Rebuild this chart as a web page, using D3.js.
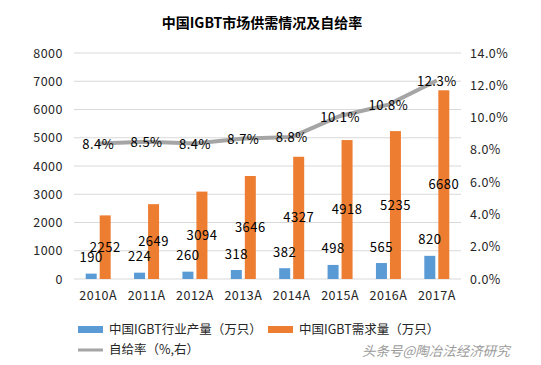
<!DOCTYPE html>
<html>
<head>
<meta charset="utf-8">
<script src="https://cdn.jsdelivr.net/npm/d3@7"></script>
<style>
  body { margin: 0; background: #fff; }
  text { font-family: "Noto Sans CJK SC", "Noto Sans", sans-serif; }
</style>
</head>
<body>
<div id="vis"></div>
<script>
// data
const YEARS = ["2010A", "2011A", "2012A", "2013A", "2014A", "2015A", "2016A", "2017A"]
const OUTPUT = [190, 224, 260, 318, 382, 498, 565, 820]
const DEMAND = [2252, 2649, 3094, 3646, 4327, 4918, 5235, 6680]
const RATE = [8.4, 8.5, 8.4, 8.7, 8.8, 10.1, 10.8, 12.3]
const LEFT_TICKS = [0, 1000, 2000, 3000, 4000, 5000, 6000, 7000, 8000]
const RIGHT_TICKS = [0, 2, 4, 6, 8, 10, 12, 14]

const FRAME_WIDTH = 541
const FRAME_HEIGHT = 365
const MARGINS = {left: 74, right: 80, top: 53, bottom: 86}
const VIS_WIDTH = FRAME_WIDTH - MARGINS.left - MARGINS.right
const VIS_HEIGHT = FRAME_HEIGHT - MARGINS.top - MARGINS.bottom

const BLUE = "#5b9bd5", ORANGE = "#ed7d31", GRAY = "#a5a5a5"

const FRAME = d3.select("#vis").append("svg")
    .attr("width", FRAME_WIDTH)
    .attr("height", FRAME_HEIGHT)

const g = FRAME.append("g")
    .attr("transform", "translate(" + MARGINS.left + "," + MARGINS.top + ")")

// scales
const x = d3.scaleBand().domain(YEARS).range([0, VIS_WIDTH])
const y = d3.scaleLinear().domain([0, 8000]).range([VIS_HEIGHT, 0])
const y2 = d3.scaleLinear().domain([0, 14]).range([VIS_HEIGHT, 0])

const BAR_W = 11
const GAP = 3

// gridlines
g.selectAll(".grid").data(LEFT_TICKS).enter().append("line")
    .attr("x1", 0).attr("x2", VIS_WIDTH)
    .attr("y1", d => y(d)).attr("y2", d => y(d))
    .attr("stroke", "#d9d9d9").attr("stroke-width", 1)

// left axis
const yAxis = g.append("g")
    .call(d3.axisLeft(y).tickValues(LEFT_TICKS).tickSize(0).tickPadding(11)
        .tickFormat(d3.format("d")))
yAxis.select(".domain").remove()
yAxis.selectAll("text").attr("font-size", "12.5px").attr("fill", "#262626")
    .attr("letter-spacing", "0.5px")

// right axis
const yAxis2 = g.append("g")
    .attr("transform", "translate(" + VIS_WIDTH + ",0)")
    .call(d3.axisRight(y2).tickValues(RIGHT_TICKS).tickSize(0).tickPadding(9)
        .tickFormat(d => d.toFixed(1) + "%"))
yAxis2.select(".domain").remove()
yAxis2.selectAll("text").attr("font-size", "12.5px").attr("fill", "#262626")
    .attr("letter-spacing", "0.5px")

// x axis
const xAxis = g.append("g")
    .attr("transform", "translate(0," + VIS_HEIGHT + ")")
    .call(d3.axisBottom(x).tickSize(0).tickPadding(12))
xAxis.select(".domain").remove()
xAxis.selectAll("text").attr("font-size", "12.5px").attr("fill", "#262626")
    .attr("letter-spacing", "0.5px")

// bars
g.selectAll(".bar-out").data(OUTPUT).enter().append("rect")
    .attr("x", (d, i) => x(YEARS[i]) + x.bandwidth() / 2 - GAP / 2 - BAR_W)
    .attr("y", d => y(d))
    .attr("width", BAR_W)
    .attr("height", d => VIS_HEIGHT - y(d))
    .attr("fill", BLUE)

g.selectAll(".bar-dem").data(DEMAND).enter().append("rect")
    .attr("x", (d, i) => x(YEARS[i]) + x.bandwidth() / 2 + GAP / 2)
    .attr("y", d => y(d))
    .attr("width", BAR_W)
    .attr("height", d => VIS_HEIGHT - y(d))
    .attr("fill", ORANGE)

// line
const line = d3.line()
    .x((d, i) => x(YEARS[i]) + x.bandwidth() / 2)
    .y(d => y2(d))
g.append("path").datum(RATE)
    .attr("d", line)
    .attr("fill", "none")
    .attr("stroke", GRAY)
    .attr("stroke-width", 4)

// labels
g.selectAll(".lab-out").data(OUTPUT).enter().append("text")
    .attr("x", (d, i) => x(YEARS[i]) + x.bandwidth() / 2 - GAP / 2 - BAR_W / 2)
    .attr("y", d => y(d) - 16)
    .attr("dy", "0.35em")
    .attr("text-anchor", "middle")
    .attr("font-size", "13px").attr("fill", "#000").attr("letter-spacing", "0.5px")
    .text(d => d)

g.selectAll(".lab-dem").data(DEMAND).enter().append("text")
    .attr("x", (d, i) => x(YEARS[i]) + x.bandwidth() / 2 + GAP / 2 + BAR_W / 2)
    .attr("y", d => (y(d) + VIS_HEIGHT) / 2)
    .attr("dy", "0.35em")
    .attr("text-anchor", "middle")
    .attr("font-size", "13px").attr("fill", "#000").attr("letter-spacing", "0.5px")
    .text(d => d)

g.selectAll(".lab-rate").data(RATE).enter().append("text")
    .attr("x", (d, i) => x(YEARS[i]) + x.bandwidth() / 2)
    .attr("y", d => y2(d) + 1)
    .attr("dy", "0.35em")
    .attr("text-anchor", "middle")
    .attr("font-size", "13px").attr("fill", "#000").attr("letter-spacing", "0.5px")
    .text(d => d.toFixed(1) + "%")

// title
FRAME.append("text")
    .attr("x", 262).attr("y", 28)
    .attr("text-anchor", "middle")
    .attr("font-size", "14px").attr("font-weight", "bold").attr("fill", "#000")
    .text("中国IGBT市场供需情况及自给率")

// legend
const legend = FRAME.append("g")
legend.append("rect").attr("x", 78).attr("y", 326).attr("width", 25).attr("height", 7).attr("fill", BLUE)
legend.append("text").attr("x", 109).attr("y", 330).attr("dy", "0.35em")
    .attr("font-size", "12.5px").attr("fill", "#262626").text("中国IGBT行业产量（万只）")
legend.append("rect").attr("x", 268).attr("y", 326).attr("width", 25).attr("height", 7).attr("fill", ORANGE)
legend.append("text").attr("x", 299).attr("y", 330).attr("dy", "0.35em")
    .attr("font-size", "12.5px").attr("fill", "#262626").text("中国IGBT需求量（万只）")
legend.append("line").attr("x1", 78).attr("x2", 103).attr("y1", 350).attr("y2", 350)
    .attr("stroke", GRAY).attr("stroke-width", 3)
legend.append("text").attr("x", 109).attr("y", 350).attr("dy", "0.35em")
    .attr("font-size", "12.5px").attr("fill", "#262626").text("自给率（%,右）")

// watermark
FRAME.append("text")
    .attr("x", 362).attr("y", 351).attr("dy", "0.35em")
    .attr("font-size", "13.5px").attr("fill", "#9a9a9a").attr("font-style", "italic")
    .text("头条号@陶冶法经济研究")
</script>
</body>
</html>
